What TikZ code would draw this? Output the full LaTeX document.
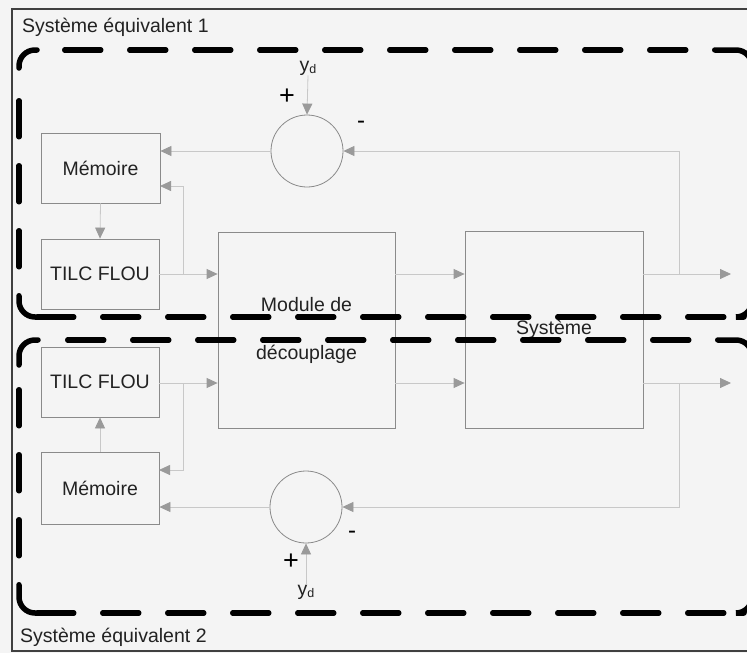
\documentclass[tikz,border=0pt]{standalone}
\usepackage{fontspec}
\setmainfont{Liberation Sans}
\usetikzlibrary{arrows.meta}

\definecolor{paper}{HTML}{F4F4F4}
\definecolor{wire}{HTML}{C8C8C8}
\definecolor{edge}{HTML}{8A8A8A}
\definecolor{tip}{HTML}{9A9A9A}
\definecolor{ink}{HTML}{222222}

\tikzset{
  block/.style={draw=edge, line width=0.8pt, rectangle, inner sep=0pt, text=ink},
  summer/.style={draw=edge, line width=0.8pt, circle, minimum size=72pt, inner sep=0pt},
  conn/.style={draw=wire, line width=0.8pt, -{Triangle[length=11pt,width=10pt,color=tip]}},
  txt/.style={text=ink, inner sep=0pt},
  signtxt/.style={text=black, inner sep=0pt},
  heavy/.style={draw=black, line width=5.5pt, line cap=round, rounded corners=16pt},
  heavydash/.style={heavy, dash pattern=on 36pt off 29pt},
  ydlabel/.style={txt}
}

\newcommand{\refsig}{y\raisebox{-2.5pt}{\fontsize{12.5}{13}\selectfont d}}

\begin{document}
\begin{tikzpicture}[x=1pt, y=-1pt, font=\fontsize{19.5}{23}\selectfont]
  \useasboundingbox (0,0) rectangle (747,653);
  \fill[paper] (0,0) rectangle (747,653);

  % outer frame
  \draw[color=black!75, line width=1.4pt] (12,9) rectangle (770,651);

  % group titles
  \node[txt, anchor=west] (title1) at (22,27) {Système équivalent 1};
  \node[txt, anchor=west] (title2) at (20,637) {Système équivalent 2};

  % blocks
  \node[block, minimum width=119pt, minimum height=70pt] (mem1) at (100.5,168) {Mémoire};
  \node[block, minimum width=118pt, minimum height=70pt] (tilc1) at (100,274) {TILC FLOU};
  \node[block, minimum width=118pt, minimum height=70pt] (tilc2) at (100,382) {TILC FLOU};
  \node[block, minimum width=118pt, minimum height=72pt] (mem2) at (100,488) {Mémoire};
  \node[block, minimum width=177pt, minimum height=196pt, align=center,
        font=\fontsize{19.5}{48}\selectfont] (mod) at (306.5,330) {Module de\\découplage};
  \node[block, minimum width=178pt, minimum height=197pt] (sys) at (554,329.5) {Système};

  % summing junctions
  \node[summer] (sum1) at (307,151) {};
  \node[summer] (sum2) at (306,507) {};

  % reference inputs and signs
  \node[ydlabel] (yd1) at (308,68) {\refsig};
  \node[ydlabel] (yd2) at (306,592) {\refsig};
  \node[signtxt, font=\fontsize{27}{27}\selectfont] (plus1) at (287,97) {+};
  \node[signtxt, font=\fontsize{24}{24}\selectfont] (minus1) at (361,125) {-};
  \node[signtxt, font=\fontsize{27}{27}\selectfont] (plus2) at (291,562) {+};
  \node[signtxt, font=\fontsize{24}{24}\selectfont] (minus2) at (352,535) {-};

  % junction points and free ends
  \coordinate (out1) at (731,274);
  \coordinate (out2) at (731,383);
  \coordinate (br1) at (679,274);
  \coordinate (br2) at (679,383);
  \coordinate (tap1) at (183,274);
  \coordinate (tap2) at (183,383);
  \coordinate (min1) at (160,186);
  \coordinate (min2) at (159,470);

  % upper loop
  \draw[conn] (yd1.south) -- (sum1.north);
  \draw[conn] (tilc1.east) -- (mod.west |- tilc1.east);
  \draw[conn] (mod.east |- tilc1.east) -- (sys.west |- tilc1.east);
  \draw[conn] (sys.east |- tilc1.east) -- (out1);
  \draw[conn] (br1) |- (sum1.east);
  \draw[conn] (sum1.west) -- (sum1.west -| mem1.east);
  \draw[conn] (tap1) |- (min1);
  \draw[conn] (mem1.south) -- (tilc1.north);

  % lower loop
  \draw[conn] (yd2.north) -- (sum2.south);
  \draw[conn] (tilc2.east |- out2) -- (mod.west |- out2);
  \draw[conn] (mod.east |- out2) -- (sys.west |- out2);
  \draw[conn] (sys.east |- out2) -- (out2);
  \draw[conn] (br2) |- (sum2.east);
  \draw[conn] (sum2.west) -- (sum2.west -| mem2.east);
  \draw[conn] (tap2) |- (min2);
  \draw[conn] (mem2.north) -- (tilc2.south);

  % group "Système équivalent 1": dashed rounded frame
  \draw[heavy] (19,68) -- (19,50) -- (37,50);
  \draw[heavydash] (64.75,50) -- (700,50);
  \draw[heavy] (714.75,50) -- (752,50) -- (752,80);
  \draw[heavydash] (19,100.75) -- (19,275);
  \draw[heavy] (19,295.75) -- (19,317) -- (40,317);
  \draw[heavydash] (37.75,317) -- (724,317);
  \draw[heavy] (752,290) -- (752,317) -- (744,317);

  % group "Système équivalent 2": dashed rounded frame
  \draw[heavy] (19,365) -- (19,340) -- (38,340);
  \draw[heavydash] (67.75,340) -- (700,340);
  \draw[heavy] (717.75,340) -- (752,340) -- (752,370);
  \draw[heavydash] (19,389.75) -- (19,570);
  \draw[heavy] (19,584.75) -- (19,613) -- (40,613);
  \draw[heavydash] (37.75,613) -- (724,613);
  \draw[heavy] (752,590) -- (752,613) -- (744,613);
\end{tikzpicture}
\end{document}
